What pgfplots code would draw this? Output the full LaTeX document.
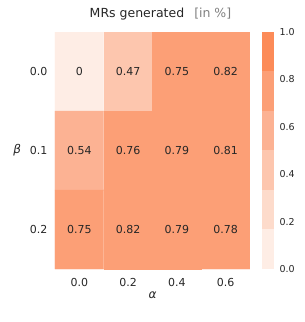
\documentclass[border=0pt]{standalone}
\usepackage{pgfplots}
\pgfplotsset{compat=1.18}
\usepackage{fontspec}
\setmainfont{DejaVu Sans}
\definecolor{txt}{HTML}{262626}
\definecolor{subgray}{HTML}{808080}
\definecolor{c0}{RGB}{254,237,229}
\definecolor{c1}{RGB}{253,219,203}
\definecolor{c2}{RGB}{253,198,174}
\definecolor{c3}{RGB}{252,178,147}
\definecolor{c4}{RGB}{252,159,118}
\definecolor{c5}{RGB}{252,139,88}
\begin{document}
\begin{tikzpicture}[font=\fontsize{11}{13}\selectfont]
\begin{axis}[
  at={(0,0)}, anchor=south west,
  scale only axis, width=195pt, height=237pt,
  xmin=-0.5, xmax=3.5, ymin=-0.5, ymax=2.5, y dir=reverse,
  xtick={0,1,2,3}, xticklabels={0.0,0.2,0.4,0.6},
  ytick={0,1,2}, yticklabels={0.0,0.1,0.2},
  major tick length=0pt, axis line style={draw=none},
  tick label style={font=\fontsize{11}{13}\selectfont, text=txt},
  xticklabel style={yshift=-6pt},
  yticklabel style={xshift=-4pt},
  /pgf/number format/assume math mode=true,
  xlabel={\itshape α}, ylabel={\itshape β},
  xlabel style={font=\fontsize{12}{14}\selectfont, text=txt, yshift=2pt},
  ylabel style={font=\fontsize{12}{14}\selectfont, text=txt, rotate=-90, xshift=-2pt},
  title={MRs generated\hspace{10pt}\textcolor{subgray}{[in \%]}},
  title style={font=\fontsize{12.5}{14}\selectfont, text=txt, xshift=8pt, yshift=2pt},
  colormap={orr}{color=(c0) color=(c1) color=(c2) color=(c3) color=(c4) color=(c5)},
  colormap access=piecewise constant,
  point meta min=0, point meta max=1,
]
\addplot[matrix plot*, mesh/cols=4, point meta=explicit] table[meta=v] {
x y v
0 0 0
1 0 0.47
2 0 0.75
3 0 0.82
0 1 0.54
1 1 0.76
2 1 0.79
3 1 0.81
0 2 0.75
1 2 0.82
2 2 0.79
3 2 0.78
};
\addplot[only marks, mark=none, nodes near coords, point meta=explicit symbolic,
  nodes near coords style={anchor=center, font=\fontsize{11}{13}\selectfont, text=txt}]
  table[meta=t] {
x y t
0 0 0
1 0 0.47
2 0 0.75
3 0 0.82
0 1 0.54
1 1 0.76
2 1 0.79
3 1 0.81
0 2 0.75
1 2 0.82
2 2 0.79
3 2 0.78
};
\end{axis}
\begin{axis}[
  at={(207pt,0)}, anchor=south west,
  scale only axis, width=12pt, height=237pt,
  xmin=-0.5, xmax=0.5, ymin=0, ymax=1,
  ybar stacked, bar width=12pt,
  axis line style={draw=none}, major tick length=0pt,
  xtick=\empty, ytick={0,0.2,0.4,0.6,0.8,1.0},
  yticklabel pos=right,
  yticklabel style={font=\fontsize{9.5}{11}\selectfont, text=txt, xshift=2pt,
    /pgf/number format/.cd, fixed, fixed zerofill, precision=1},
  /pgf/number format/assume math mode=true,
]
\addplot[draw=none, fill=c0] coordinates {(0,0.16667)};
\addplot[draw=none, fill=c1] coordinates {(0,0.16667)};
\addplot[draw=none, fill=c2] coordinates {(0,0.16667)};
\addplot[draw=none, fill=c3] coordinates {(0,0.16667)};
\addplot[draw=none, fill=c4] coordinates {(0,0.16667)};
\addplot[draw=none, fill=c5] coordinates {(0,0.16666)};
\end{axis}
\pgfresetboundingbox
\path (-55pt,-53pt) rectangle (250pt,269pt);
\end{tikzpicture}
\end{document}
